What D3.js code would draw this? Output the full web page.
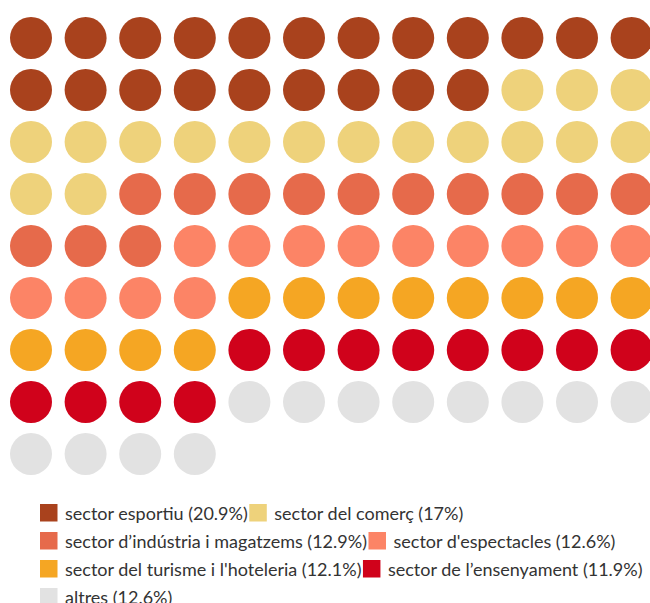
<!DOCTYPE html>
<html>
<head>
<meta charset="utf-8">
<script src="https://cdn.jsdelivr.net/npm/d3@7"></script>
<style>
  body { margin: 0; background: #fff; }
  svg { display: block; font-family: Lato, "Open Sans", sans-serif; }
</style>
</head>
<body>
<script>
let categories = ["sector esportiu", "sector del comerç", "sector d’indústria i magatzems",
                  "sector d'espectacles", "sector del turisme i l'hoteleria",
                  "sector de l’ensenyament", "altres"];
let percents = [20.9, 17, 12.9, 12.6, 12.1, 11.9, 12.6];
let colors = ["#a9421d", "#eed27b", "#e66a4b", "#fc8466", "#f5a623", "#d0021b", "#e2e2e2"];

let cols = 12, total = 100;

// largest remainder so the dots add up to 100
let counts = percents.map(p => Math.floor(p * total / 100));
let order = percents.map((p, i) => i)
  .sort((a, b) => (percents[b] * total / 100 - counts[b]) - (percents[a] * total / 100 - counts[a]));
let left = total - d3.sum(counts);
for (let k = 0; k < left; k++) counts[order[k]]++;

let dots = [];
counts.forEach((c, i) => { for (let j = 0; j < c; j++) dots.push(i); });

let svg = d3.select("body").append("svg").attr("width", 650).attr("height", 603);

let x = d3.scaleLinear().domain([0, cols - 1]).range([31, 631.6]);
let y = d3.scaleLinear().domain([0, 8]).range([38, 454]);

svg.selectAll("circle")
  .data(dots)
  .enter().append("circle")
    .attr("cx", (d, i) => x(i % cols))
    .attr("cy", (d, i) => y(Math.floor(i / cols)))
    .attr("r", 21)
    .attr("fill", d => colors[d]);

// legend, wrapping like inline items
let legend = svg.append("g");
let lx = 40, ly = 513, maxX = 650;
categories.forEach((c, i) => {
  let g = legend.append("g");
  let t = g.append("text")
    .attr("x", 25).attr("y", 0)
    .attr("dominant-baseline", "central")
    .attr("font-size", 18)
    .attr("fill", "#333")
    .text(c + " (" + percents[i] + "%)");
  g.insert("rect", "text")
    .attr("x", 0).attr("y", -9)
    .attr("width", 17.5).attr("height", 17.5)
    .attr("fill", colors[i]);
  let w = 25 + t.node().getComputedTextLength();
  if (lx + w > maxX && lx > 40) { lx = 40; ly += 28; }
  g.attr("transform", "translate(" + lx + "," + ly + ")");
  lx += w + 1.5;
});
</script>
</body>
</html>
